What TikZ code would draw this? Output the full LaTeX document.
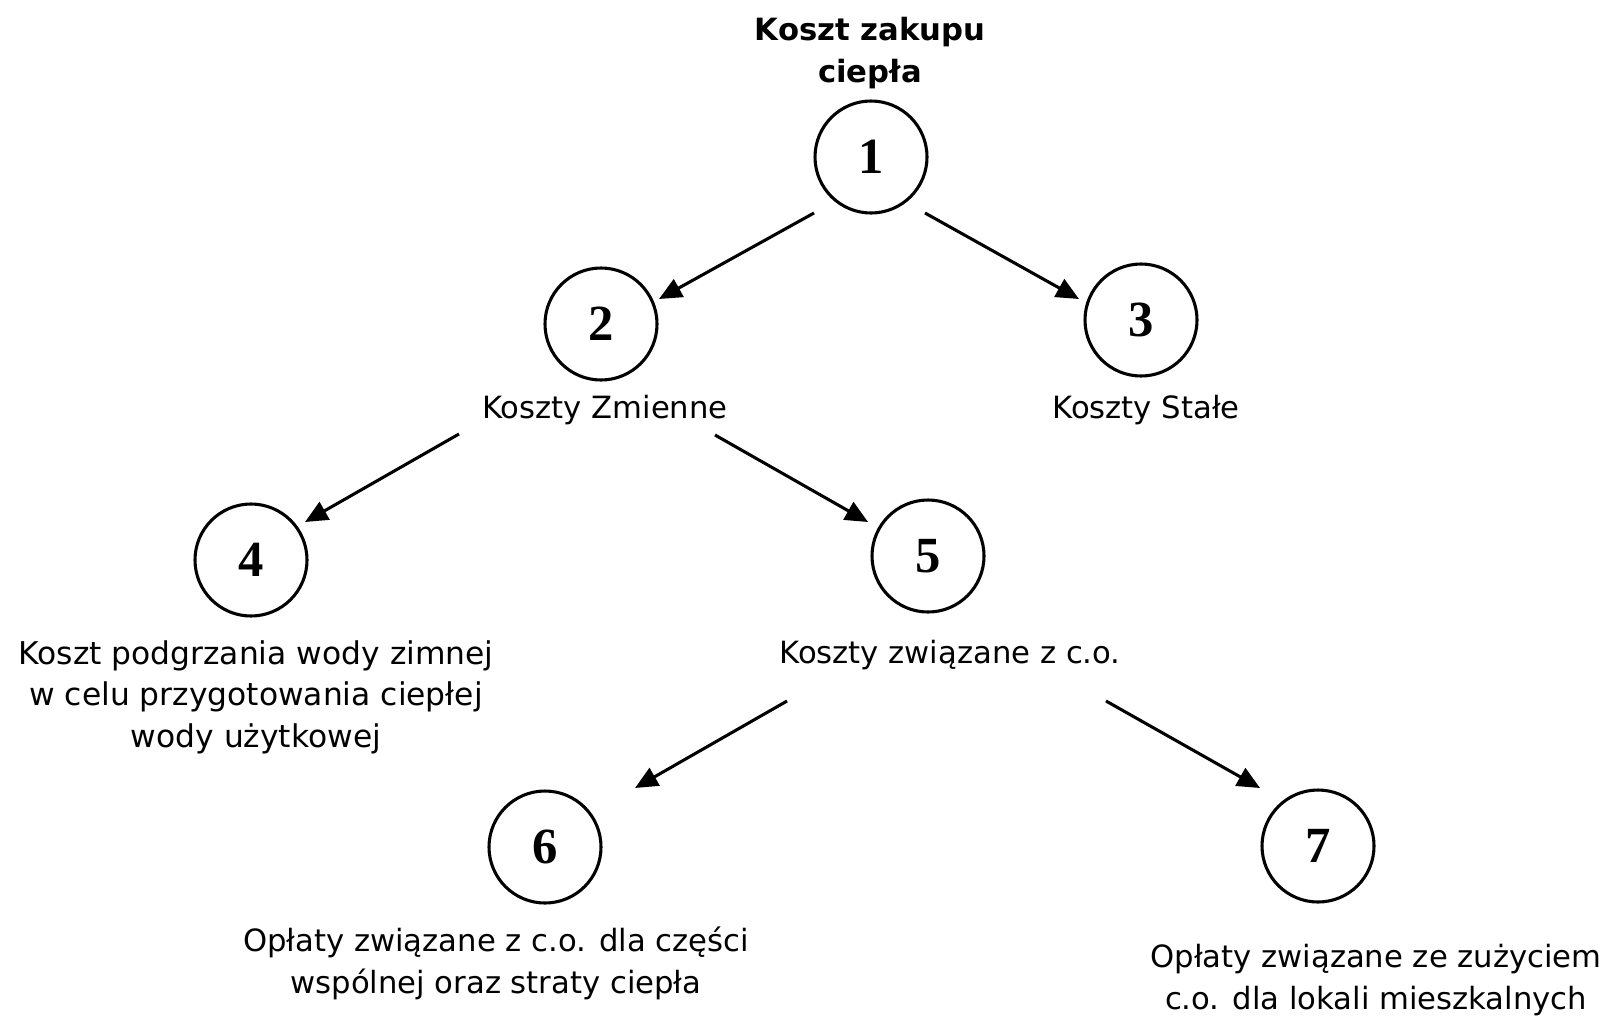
\documentclass[tikz,border=0pt]{standalone}
\usepackage{fontspec}
\setmainfont{DejaVu Sans}
\newfontfamily\numfont{Liberation Serif}
\usetikzlibrary{arrows.meta}

\tikzset{
  num/.style={draw, circle, line width=2.3pt, minimum size=84pt, inner sep=0pt,
    font=\numfont\bfseries\fontsize{38}{38}\selectfont},
  lbl/.style={align=center, anchor=base, font=\fontsize{23}{30.8}\selectfont},
  arr/.style={line width=2.3pt, -{Triangle[length=17pt,width=15pt]}}
}

\begin{document}
\begin{tikzpicture}[x=0.75pt, y=-0.75pt]
\useasboundingbox (0,0) rectangle (1615,1021);
% circles
\node[num] (c1) at (871,157) {1};
\node[num] (c2) at (601,324) {2};
\node[num] (c3) at (1141,320) {3};
\node[num] (c4) at (251,560) {4};
\node[num] (c5) at (928,556) {5};
\node[num] (c6) at (545,847) {6};
\node[num] (c7) at (1318,846) {7};
% labels (base = last line)
\node[lbl, font=\bfseries\fontsize{23}{30.8}\selectfont] (t1) at (870,82) {Koszt zakupu\\ciepła};
\node[lbl] (t2) at (605,418) {Koszty Zmienne};
\node[lbl] (t3) at (1146,418) {Koszty Stałe};
\node[lbl, font=\fontsize{23.5}{30.8}\selectfont] (t4) at (256,747) {Koszt podgrzania wody zimnej\\w celu przygotowania ciepłej\\wody użytkowej};
\node[lbl] (t5) at (950,663) {Koszty związane z c.o.};
\node[lbl] (t6) at (496,993) {Opłaty związane z c.o. dla części\\wspólnej oraz straty ciepła};
\node[lbl] (t7) at (1376,1009) {Opłaty związane ze zużyciem\\c.o. dla lokali mieszkalnych};
% arrows
\draw[arr] ([shift={(-57,56)}]c1.center) -- ([shift={(58,-25)}]c2.center);
\draw[arr] ([shift={(54,56)}]c1.center) -- ([shift={(-62,-21)}]c3.center);
\draw[arr] ([shift={(-146,16)}]t2.base) -- ([shift={(54,-38)}]c4.center);
\draw[arr] ([shift={(110,17)}]t2.base) -- ([shift={(-60,-34)}]c5.center);
\draw[arr] ([shift={(-163,38)}]t5.base) -- ([shift={(90,-59)}]c6.center);
\draw[arr] ([shift={(156,38)}]t5.base) -- ([shift={(-58,-58)}]c7.center);
\end{tikzpicture}
\end{document}
